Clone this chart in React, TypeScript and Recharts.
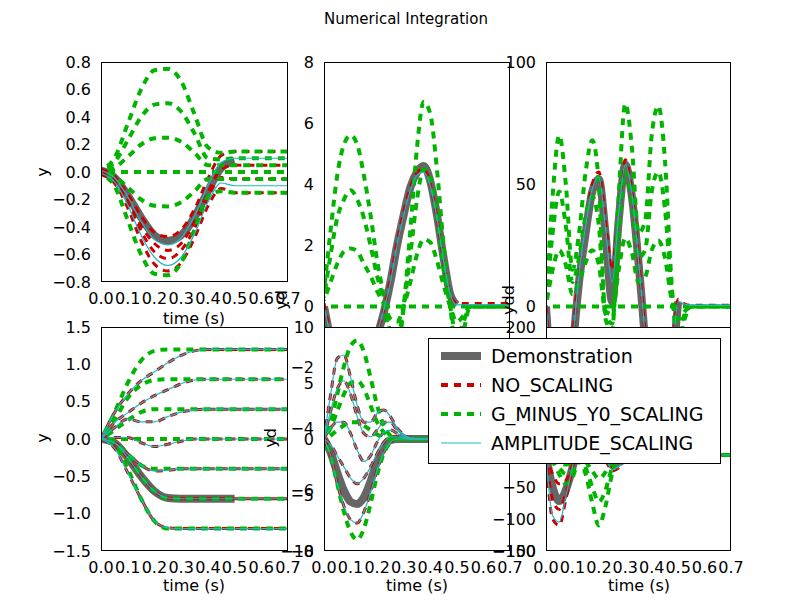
import React from 'react';
import { LineChart, Line, XAxis, YAxis } from 'recharts';

const t05 = [0, 0.05, 0.1, 0.15, 0.2, 0.25, 0.3, 0.35, 0.4, 0.45, 0.5, 0.55, 0.6, 0.65, 0.7];
const t025 = [0, 0.025, 0.05, 0.075, 0.1, 0.125, 0.15, 0.175, 0.2, 0.225, 0.25, 0.275, 0.3, 0.325, 0.35, 0.375, 0.4, 0.425, 0.45, 0.475, 0.5, 0.525, 0.55, 0.575, 0.6, 0.625, 0.65, 0.675, 0.7];
const xTicks = [0, 0.1, 0.2, 0.3, 0.4, 0.5, 0.6, 0.7];

// top-left: y
const demoTL = [0.01, -0.04, -0.17, -0.33, -0.46, -0.5, -0.46, -0.33, -0.14, 0.03, 0.08];
const redTL = [
  [0.02, -0.03, -0.16, -0.32, -0.44, -0.47, -0.42, -0.27, -0.05, 0.12, 0.15],
  [0, -0.05, -0.2, -0.39, -0.52, -0.57, -0.52, -0.36, -0.15, 0.02, 0.05],
  [-0.01, -0.06, -0.22, -0.43, -0.58, -0.63, -0.57, -0.41, -0.19, -0.04, -0.05],
  [-0.02, -0.08, -0.26, -0.5, -0.67, -0.72, -0.66, -0.48, -0.25, -0.12, -0.15],
];
const greenTL = [
  [0.02, 0.1, 0.35, 0.6, 0.74, 0.75, 0.66, 0.42, 0.18, 0.14, 0.15],
  [0.01, 0.07, 0.23, 0.4, 0.49, 0.5, 0.44, 0.28, 0.1, 0.09, 0.1],
  [0, 0.03, 0.11, 0.2, 0.245, 0.25, 0.22, 0.14, 0.05, 0.05, 0.05],
  [0, 0, 0, 0, 0, 0, 0, 0, 0, 0, 0],
  [0, -0.03, -0.11, -0.2, -0.245, -0.25, -0.22, -0.14, -0.05, -0.05, -0.05],
  [-0.02, -0.1, -0.35, -0.6, -0.74, -0.75, -0.66, -0.42, -0.18, -0.14, -0.15],
];
const cyanTL = [
  [0.01, -0.04, -0.18, -0.36, -0.49, -0.53, -0.48, -0.32, -0.1, 0.07, 0.1],
  [-0.01, -0.07, -0.24, -0.46, -0.62, -0.68, -0.62, -0.45, -0.22, -0.08, -0.1],
];

// bottom-left: y (second dof)
const demoBL = [0, -0.05, -0.25, -0.5, -0.7, -0.79, -0.8, -0.8, -0.8, -0.8, -0.8];
const redBL = [
  [0, 0.35, 0.6, 0.78, 0.9, 1.02, 1.12, 1.18, 1.2],
  [0, 0.22, 0.35, 0.48, 0.58, 0.66, 0.74, 0.79, 0.8],
  [0, 0.15, 0.27, 0.23, 0.23, 0.3, 0.36, 0.39, 0.4],
  [0, 0.02, 0.02, -0.05, -0.1, -0.07, -0.03, 0, 0],
  [0, -0.05, -0.2, -0.35, -0.43, -0.42, -0.4],
  [0, -0.05, -0.25, -0.5, -0.7, -0.79, -0.8],
  [0, -0.12, -0.45, -0.8, -1.1, -1.19, -1.2],
];
const greenBL = [
  [0, 0.35, 0.75, 1.05, 1.18, 1.2],
  [0, 0.25, 0.55, 0.72, 0.79, 0.8],
  [0, 0.12, 0.25, 0.36, 0.4],
  [0, 0, 0],
  [0, -0.05, -0.2, -0.35, -0.4],
  [0, -0.05, -0.25, -0.5, -0.7, -0.8],
  [0, -0.08, -0.4, -0.8, -1.1, -1.2],
];

// top-middle: yd
const demoTM = [0, -1.2, -3, -4.3, -4.8, -4.5, -3.5, -2, -1, -0.2, 0.8, 2, 3, 3.9, 4.4, 4.6, 4.1, 3, 1.6, 0.4, 0.05];
const redTM = [0.1, -1, -2.8, -4.1, -4.6, -4.3, -3.3, -1.9, -0.9, -0.1, 0.9, 2.1, 3.1, 3.9, 4.4, 4.5, 4.0, 2.9, 1.5, 0.4, 0.1, 0.1];
const cyanTM = [0, -1.1, -2.9, -4.2, -4.7, -4.4, -3.4, -2, -0.9, -0.1, 0.8, 2, 3, 3.8, 4.3, 4.4, 3.95, 2.9, 1.5, 0.4, 0.05];
const greenTM = [
  [0.5, 2.5, 4.3, 5.3, 5.6, 5.3, 4.3, 3, 1.5, 0.3, -1.2, -1.5, 0, 2.5, 5.2, 6.7, 6.3, 4.5, 2, 0, -1.5, -0.8, 0],
  [0.3, 1.7, 2.9, 3.5, 3.8, 3.5, 2.9, 2, 1, 0.2, -0.8, -1, 0, 1.7, 3.5, 4.5, 4.2, 3, 1.3, 0, -1, -0.5, 0],
  [0.2, 0.8, 1.4, 1.8, 1.9, 1.8, 1.4, 1, 0.5, 0.1, -0.4, -0.5, 0, 0.8, 1.7, 2.2, 2.1, 1.5, 0.7, 0, -0.5, -0.3, 0],
  [0, 0, 0],
];

// top-right: ydd
const demoTR = [0, -40, -70, -60, -20, 10, 30, 47, 52, 30, 2, 35, 58, 45, 18, -15, -60, -90, -70, -30, 2];
const redTR = [0, -35, -65, -55, -15, 15, 35, 50, 55, 35, 15, 40, 60, 47, 20, -12, -55, -85, -65, -25, 3, 1, 0.5];
const cyanTR = [0, -37, -67, -57, -17, 13, 33, 48, 53, 32, 10, 38, 58, 46, 19, -13, -57, -87, -67, -27, 2, 1, 0.5];
const greenTR = [
  [0, 45, 70, 50, 15, 30, 55, 68, 50, -5, -10, 45, 83, 65, 30, 35, 70, 82, 60, 10, -15, -5, 0],
  [0, 30, 47, 33, 10, 20, 37, 45, 33, -3, -7, 30, 55, 43, 20, 23, 47, 55, 40, 7, -10, -3, 0],
  [0, 15, 23, 17, 5, 10, 18, 23, 17, -2, -3, 15, 28, 22, 10, 12, 23, 27, 20, 3, -5, -2, 0],
  [0, 0, 0],
];

// bottom-middle: yd (second dof)
const demoBM = [0, -1.2, -3, -4.6, -5.6, -5.8, -5.2, -3.8, -2, -0.7, -0.1, 0, 0, 0, 0, 0, 0, 0, 0, 0, 0];
const redBM = [
  [0, 4, 7.2, 7.5, 5.5, 3, 1.5, 1.5, 2.3, 2.6, 2, 1, 0.4, 0.1, 0],
  [0, 2.5, 4.5, 5.2, 4, 2, 0.5, 0.2, 0.8, 1.5, 1.5, 0.8, 0.3, 0.1, 0],
  [0, 1, 1.5, 1.5, 0.5, -1, -2, -1.5, -0.3, 0.6, 0.8, 0.5, 0.2, 0, 0],
  [0, -0.5, -1.5, -2.5, -3.5, -4, -3.5, -2.5, -1.3, -0.3, 0.2, 0.2, 0.1, 0, 0],
  [0, -1.5, -4, -6, -7.2, -7.5, -6.5, -4.8, -2.8, -1.2, -0.3, 0, 0],
];
const greenBM = [
  [0, 1.5, 4, 6.5, 8.3, 8.8, 7.8, 5.5, 3, 1.2, 0.3, 0, 0],
  [0, 1, 2.5, 4, 5, 5.2, 4.5, 3, 1.5, 0.6, 0.1, 0],
  [0, 0.3, 0.8, 1.2, 1.5, 1.5, 1.2, 0.8, 0.4, 0.1, 0],
  [0, -1.5, -4, -6.5, -8.3, -9, -8, -5.8, -3.2, -1.3, -0.3, 0],
];

// bottom-right: ydd (second dof)
const demoBR = [0, -50, -72, -55, -20, 20, 60, 70, 40, 0, -15, -12, -5, 0, 0, 0, 0, 0, 0, 0, 0];
const redBR = [
  [0, -100, -110, -70, -20, 30, 80, 90, 50, 0, -25, -20, -8, 0],
  [0, -70, -85, -60, -20, 25, 70, 80, 45, 0, -20, -15, -6, 0],
  [0, -30, -45, -40, -15, 15, 45, 55, 30, 0, -10, -10, -4, 0],
];
const cyanBR = [[0, -95, -105, -65, -18, 28, 75, 85, 48, 0, -23, -18, -7, 0]];
const greenBR = [
  [0, -10, -30, -45, -35, -10, -30, -75, -110, -80, -30, -5, 0],
  [0, -7, -20, -30, -25, -7, -20, -50, -73, -55, -20, -3, 0],
  [0, -3, -10, -15, -12, -3, -10, -25, -37, -27, -10, -2, 0],
  [0, 0, 0],
];

type S = { key: string; arr: number[]; kind: 'demo' | 'red' | 'green' | 'cyan' };

function build(time: number[], series: S[]) {
  return time.map((t, i) => {
    const r: any = { t };
    series.forEach((s) => {
      if (i < s.arr.length) r[s.key] = s.arr[i];
      else r[s.key] = s.kind === 'demo' ? null : s.arr[s.arr.length - 1];
    });
    return r;
  });
}

function mk(demo: number[], red: number[][], green: number[][], cyan: number[][]): S[] {
  const out: S[] = [{ key: 'demo', arr: demo, kind: 'demo' }];
  red.forEach((a, i) => out.push({ key: 'r' + i, arr: a, kind: 'red' }));
  green.forEach((a, i) => out.push({ key: 'g' + i, arr: a, kind: 'green' }));
  cyan.forEach((a, i) => out.push({ key: 'c' + i, arr: a, kind: 'cyan' }));
  return out;
}

const FONT = '"DejaVu Sans", sans-serif';
const FS = 16;
const fmt = (d: number) => (v: number) => v.toFixed(d).replace('-', '\u2212');

type P = {
  x: number; y: number; w: number; h: number;
  time: number[]; series: S[]; domain: [number, number]; ticks: number[]; dec: number; showX: boolean;
};

function Panel({ x, y, w, h, time, series, domain, ticks, dec, showX }: P) {
  const data = build(time, series);
  const style = (s: S): any => {
    if (s.kind === 'demo') return { stroke: '#666666', strokeWidth: 8 };
    if (s.kind === 'red') return { stroke: '#cc0000', strokeWidth: 3, strokeDasharray: '7 6' };
    if (s.kind === 'green') return { stroke: '#00b400', strokeWidth: 4, strokeDasharray: '7 6', strokeDashoffset: 6 };
    return { stroke: '#1fb8c4', strokeWidth: 1.2 };
  };
  return (
    <div style={{ position: 'absolute', left: x - 60, top: y - 10 }}>
      <LineChart width={w + 85} height={h + 50} data={data} margin={{ top: 10, right: 25, left: 0, bottom: 0 }}>
        <XAxis dataKey="t" type="number" domain={[0, 0.7]} ticks={xTicks} allowDataOverflow
          tickFormatter={fmt(1)} axisLine={false} tickLine={false} height={40} tickMargin={5}
          tick={showX ? { fill: '#000', fontSize: FS, fontFamily: FONT } : false} interval={0} />
        <YAxis type="number" domain={domain} ticks={ticks} allowDataOverflow width={60}
          tickFormatter={fmt(dec)} axisLine={false} tickLine={false} tickMargin={4} interval={0}
          tick={{ fill: '#000', fontSize: FS, fontFamily: FONT }} />
        {series.map((s) => (
          <Line key={s.key} dataKey={s.key} type="monotone" dot={false} isAnimationActive={false}
            connectNulls={false} {...style(s)} />
        ))}
      </LineChart>
    </div>
  );
}

const box = (x: number, y: number, w: number, h: number, fill = false) => (
  <div style={{ position: 'absolute', left: x, top: y, width: w, height: h, boxSizing: 'border-box',
    border: '1px solid #000', background: fill ? '#fff' : 'transparent' }} />
);

const txt = (s: string, x: number, y: number, rot = false, size = FS) => (
  <div style={{ position: 'absolute', left: x, top: y, fontFamily: FONT, fontSize: size, whiteSpace: 'nowrap',
    transform: `translate(-50%,-50%)${rot ? ' rotate(-90deg)' : ''}` }}>{s}</div>
);

const legendItems: [string, any][] = [
  ['Demonstration', { stroke: '#666666', strokeWidth: 8 }],
  ['NO_SCALING', { stroke: '#cc0000', strokeWidth: 4, strokeDasharray: '7 6' }],
  ['G_MINUS_Y0_SCALING', { stroke: '#00b400', strokeWidth: 4, strokeDasharray: '7 6' }],
  ['AMPLITUDE_SCALING', { stroke: '#1fb8c4', strokeWidth: 1.2 }],
];

export default function App() {
  return (
    <div style={{ position: 'relative', width: 800, height: 600, background: '#fff', overflow: 'hidden' }}>
      {txt('Numerical Integration', 398, 11, false, 15)}
      <Panel x={93} y={54} w={187} h={220} time={t05} series={mk(demoTL, redTL, greenTL, cyanTL)}
        domain={[-0.8, 0.8]} ticks={[-0.8, -0.6, -0.4, -0.2, 0, 0.2, 0.4, 0.6, 0.8]} dec={1} showX />
      <Panel x={316} y={54} w={186} h={489} time={t025} series={mk(demoTM, [redTM], greenTM, [cyanTM])}
        domain={[-8, 8]} ticks={[-8, -6, -4, -2, 0, 2, 4, 6, 8]} dec={0} showX={false} />
      <Panel x={538} y={54} w={185} h={489} time={t025} series={mk(demoTR, [redTR], greenTR, [cyanTR])}
        domain={[-100, 100]} ticks={[-100, -50, 0, 50, 100]} dec={0} showX={false} />
      {box(93, 54, 187, 220)}
      {box(316, 54, 186, 489)}
      {box(538, 54, 185, 489)}
      {box(316, 319, 186, 224, true)}
      {box(538, 319, 185, 224, true)}
      <Panel x={93} y={319} w={187} h={224} time={t05} series={mk(demoBL, redBL, greenBL, redBL)}
        domain={[-1.5, 1.5]} ticks={[-1.5, -1, -0.5, 0, 0.5, 1, 1.5]} dec={1} showX />
      <Panel x={316} y={319} w={186} h={224} time={t025} series={mk(demoBM, redBM, greenBM, redBM)}
        domain={[-10, 10]} ticks={[-10, -5, 0, 5, 10]} dec={0} showX />
      <Panel x={538} y={319} w={185} h={224} time={t025} series={mk(demoBR, redBR, greenBR, cyanBR)}
        domain={[-150, 200]} ticks={[-150, -100, -50, 0, 50, 100, 150, 200]} dec={0} showX />
      {box(93, 319, 187, 224)}
      {box(316, 319, 186, 224)}
      {box(538, 319, 185, 224)}
      {txt('y', 34, 164, true)}
      {txt('y', 34, 430, true)}
      {txt('yd', 273, 292, true)}
      {txt('ydd', 500, 292, true)}
      {txt('yd', 262, 430, true)}
      {txt('time (s)', 186, 310)}
      {txt('time (s)', 186, 577)}
      {txt('time (s)', 409, 577)}
      {txt('time (s)', 631, 577)}
      <div style={{ position: 'absolute', left: 420, top: 330, width: 293, height: 126, boxSizing: 'border-box',
        border: '1px solid #000', background: '#fff' }}>
        {legendItems.map(([label, st], i) => (
          <div key={label} style={{ position: 'absolute', left: 12, top: 4 + i * 29, height: 26, display: 'flex', alignItems: 'center' }}>
            <svg width={40} height={10}><line x1={0} y1={5} x2={40} y2={5} {...st} /></svg>
            <span style={{ marginLeft: 10, fontFamily: FONT, fontSize: 19 }}>{label}</span>
          </div>
        ))}
      </div>
    </div>
  );
}
